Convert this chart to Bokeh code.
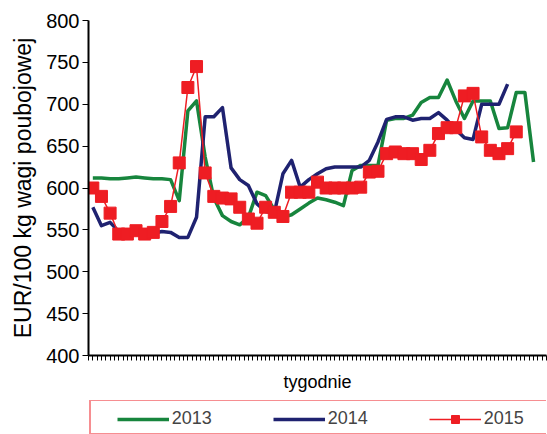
from bokeh.plotting import figure
from bokeh.layouts import column
from bokeh.models import Range1d, FixedTicker, Legend, LegendItem
from bokeh.embed import file_html
from bokeh.resources import INLINE

# ---- data (EUR/100 kg carcass weight, weekly) ----
weeks_2013 = list(range(1, 53))
price_2013 = [612, 612, 611, 611, 612, 613, 612, 611, 611, 610,
              585, 692, 704, 637, 588, 567, 560, 556, 565, 595,
              591, 574, 565, 568, 575, 582, 588, 586, 583, 579,
              621, 627, 627, 627, 681, 683, 683, 687, 702, 708,
              708, 729, 704, 683, 704, 704, 704, 671, 672, 714,
              714, 631]

weeks_2014 = list(range(1, 50))
price_2014 = [577, 555, 559, 548, 546, 546, 547, 546, 548, 547,
              541, 541, 565, 685, 685, 696, 624, 610, 603, 581,
              572, 570, 617, 633, 601, 610, 617, 623, 625, 625,
              625, 625, 633, 655, 682, 685, 685, 681, 683, 683,
              690, 681, 670, 660, 658, 700, 700, 700, 724]

weeks_2015 = list(range(1, 51))
price_2015 = [600, 590, 570, 545, 545, 549, 545, 547, 560, 578,
              630, 720, 745, 618, 590, 588, 587, 577, 563, 558,
              577, 571, 566, 595, 595, 595, 607, 600, 600, 600,
              600, 601, 619, 620, 641, 643, 641, 641, 634, 645,
              665, 672, 672, 710, 713, 661, 645, 641, 647, 667]

series_labels = ["2013", "2014", "2015"]
y_ticks = [400, 450, 500, 550, 600, 650, 700, 750, 800]
n_categories = 53
x_title = "tygodnie"
y_title = "EUR/100 kg wagi poubojowej"

GREEN = "#17853D"
NAVY = "#1F2270"
RED = "#EE1D23"
FONT = "Liberation Sans"


def draw_series(fig):
    g = fig.line(weeks_2013, price_2013, line_color=GREEN, line_width=3.5, line_join="round")
    b = fig.line(weeks_2014, price_2014, line_color=NAVY, line_width=3.5, line_join="round")
    rl = fig.line(weeks_2015, price_2015, line_color=RED, line_width=1.5)
    rs = fig.scatter(weeks_2015, price_2015, marker="square", size=12,
                     fill_color=RED, line_color=RED)
    return g, b, rl, rs


# ---- main chart ----
p = figure(width=547, height=400, output_backend="svg", toolbar_location=None,
           x_range=Range1d(0.5, n_categories + 0.5), y_range=Range1d(400, 800),
           min_border_left=88, min_border_right=1, min_border_top=20,
           min_border_bottom=45, x_axis_label=x_title, y_axis_label=y_title)
p.outline_line_color = None
p.xgrid.visible = False
p.ygrid.visible = False
p.background_fill_color = "white"
p.border_fill_color = "white"

xa = p.xaxis[0]
xa.ticker = FixedTicker(ticks=[0.5 + 0.5 * i for i in range(2 * n_categories + 1)])
xa.major_tick_out = 5
xa.major_tick_in = 0
xa.minor_tick_out = 0
xa.minor_tick_in = 0
xa.major_label_text_font_size = "0px"
xa.major_label_standoff = 0
xa.axis_line_width = 2
xa.axis_line_color = "black"
xa.major_tick_line_color = "black"
xa.axis_label_text_font = FONT
xa.axis_label_text_font_size = "18px"
xa.axis_label_text_font_style = "normal"
xa.axis_label_text_color = "black"
xa.axis_label_standoff = 11

ya = p.yaxis[0]
ya.ticker = FixedTicker(ticks=y_ticks)
ya.major_tick_out = 6
ya.major_tick_in = 0
ya.minor_tick_out = 0
ya.minor_tick_in = 0
ya.axis_line_width = 2
ya.axis_line_color = "black"
ya.major_tick_line_color = "black"
ya.major_label_text_font = FONT
ya.major_label_text_font_size = "20px"
ya.major_label_text_color = "black"
ya.major_label_standoff = 3
ya.axis_label_text_font = FONT
ya.axis_label_text_font_size = "23px"
ya.axis_label_text_font_style = "normal"
ya.axis_label_text_color = "black"
ya.axis_label_standoff = 7

draw_series(p)

# ---- legend strip (series drawn off-range, only their legend samples show) ----
p2 = figure(width=547, height=34, output_backend="svg", toolbar_location=None,
            x_range=Range1d(-1000, -999), y_range=Range1d(-1000, -999),
            x_axis_location=None, y_axis_location=None,
            min_border_left=0, min_border_right=0, min_border_top=0, min_border_bottom=0)
p2.outline_line_color = None
p2.grid.visible = False
p2.background_fill_color = "white"
p2.border_fill_color = "white"
g2, b2, rl2, rs2 = draw_series(p2)
frame_only = p2.line(weeks_2013, price_2013, line_alpha=0)

# red-bordered legend frame (the strip's frame is aligned with the chart's frame)
box = Legend(items=[LegendItem(label=" ", renderers=[frame_only])],
             orientation="horizontal", location=(1, -1),
             glyph_width=20, glyph_height=20, label_width=470,
             padding=6, margin=0, border_line_color=RED, border_line_width=2,
             label_text_font=FONT, label_text_font_size="18px",
             background_fill_color="white", background_fill_alpha=1)
p2.add_layout(box, "center")

legend = Legend(items=[LegendItem(label=series_labels[0], renderers=[g2]),
                       LegendItem(label=series_labels[1], renderers=[b2]),
                       LegendItem(label=series_labels[2], renderers=[rl2, rs2])],
                orientation="horizontal", location=(22.7, -1),
                glyph_width=52, glyph_height=20, label_standoff=3,
                label_width=60, spacing=41,
                padding=6, margin=0, border_line_alpha=0,
                label_text_font=FONT, label_text_font_size="18px",
                background_fill_alpha=0)
p2.add_layout(legend, "center")

open("out.html", "w").write(file_html(column(p, p2, spacing=0), INLINE))
